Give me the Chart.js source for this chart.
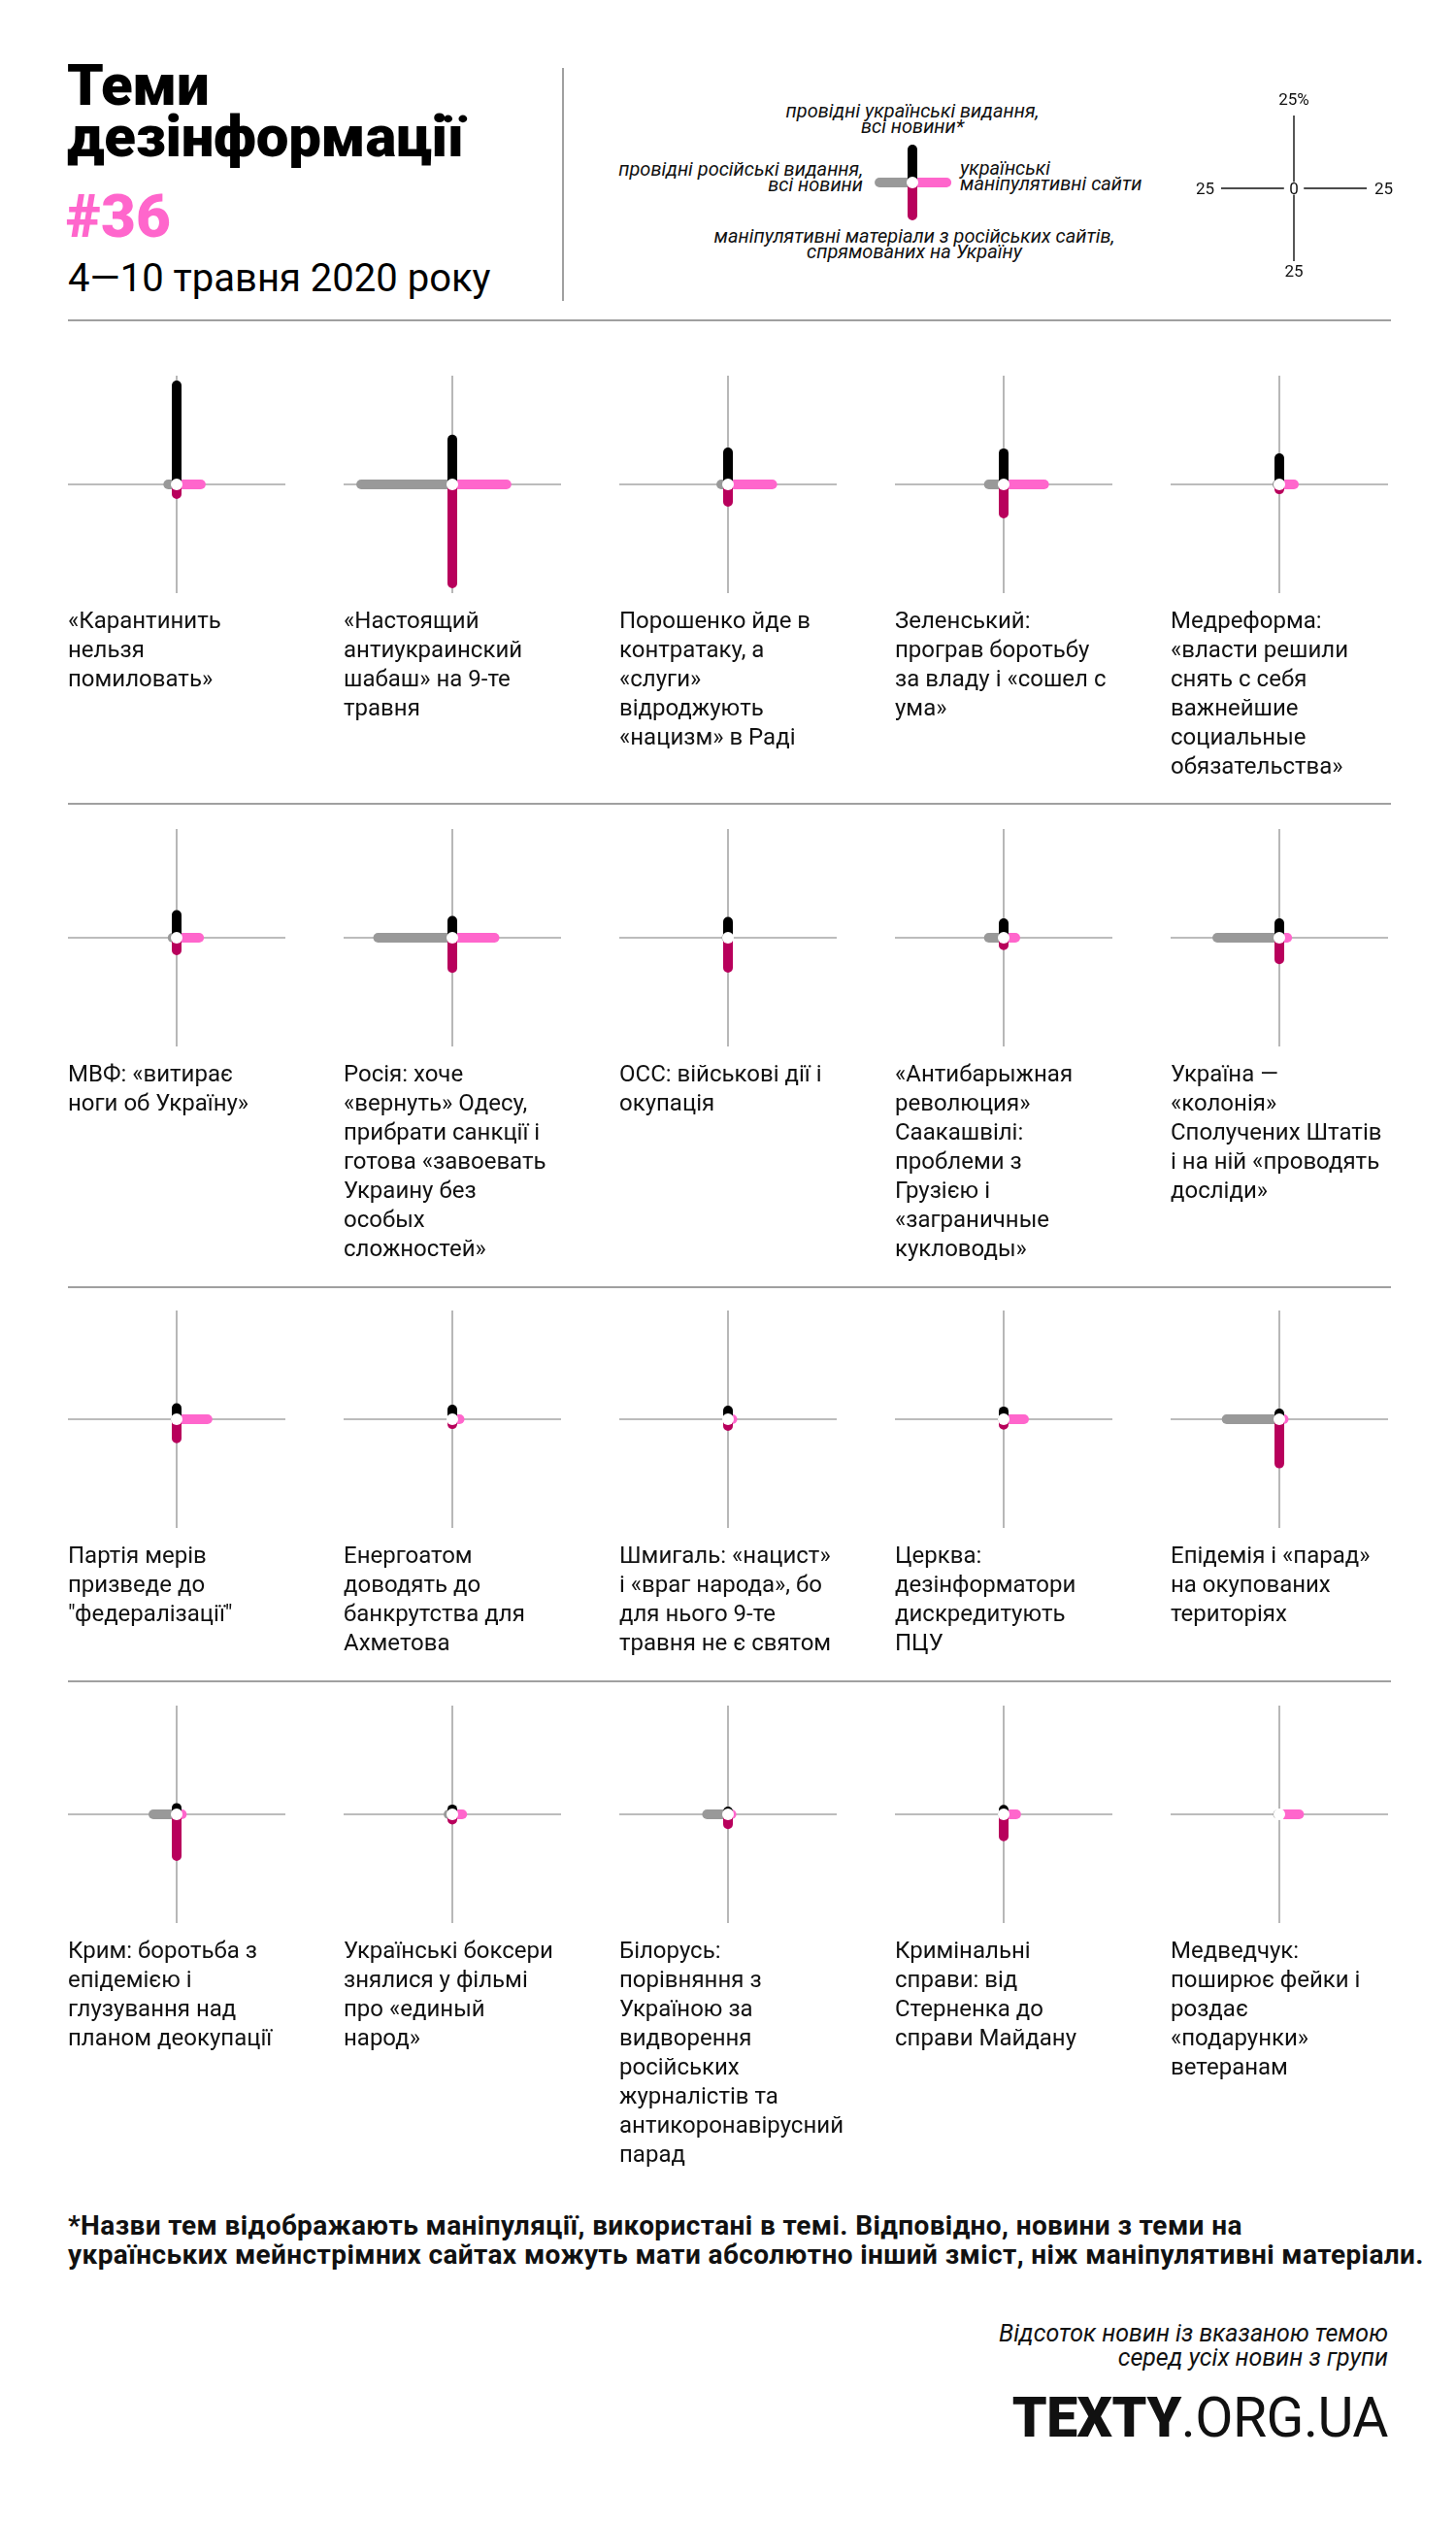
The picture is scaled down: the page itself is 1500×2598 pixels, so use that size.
<!DOCTYPE html>
<html lang="uk">
<head>
<meta charset="utf-8">
<script src="https://cdn.jsdelivr.net/npm/chart.js@4"></script>
<style>
  html, body { margin: 0; padding: 0; background: #fff; }
  body { width: 1500px; height: 2598px; position: relative; overflow: hidden; font-family: Roboto, "Noto Sans", sans-serif; color: #111; }
  .abs { position: absolute; white-space: nowrap; }
  .title { left: 69px; top: 61px; font-size: 60px; line-height: 53px; font-weight: 900; color: #000; letter-spacing: -0.3px; }
  .num { left: 68px; top: 195px; font-size: 62px; line-height: 56px; font-weight: 900; color: #ff66cc; }
  .sub { left: 70px; top: 267px; font-size: 40px; line-height: 40px; font-weight: 400; color: #000; }
  .leg { font-size: 20px; line-height: 16px; font-style: italic; color: #111; }
  .sc { font-size: 17px; line-height: 16px; color: #111; }
  .hr { position: absolute; height: 2px; background: #a0a0a0; }
  .vr { position: absolute; width: 2px; background: #a0a0a0; }
  .lab { position: absolute; font-size: 24px; line-height: 30px; color: #111; white-space: nowrap; }
  .foot { left: 70px; top: 2278px; font-size: 28px; line-height: 30px; font-weight: 700; color: #111; letter-spacing: 0.4px; }
  .note { right: 70px; top: 2391px; font-size: 25px; line-height: 25px; font-style: italic; text-align: right; color: #111; }
  .logo { right: 70px; top: 2461px; font-size: 57px; line-height: 60px; color: #111; letter-spacing: -0.5px; }
  canvas { position: absolute; }
</style>
</head>
<body>
<script>
// ---------------- DATA ----------------
const topics = [
  ["«Карантинить", "нельзя", "помиловать»"],
  ["«Настоящий", "антиукраинский", "шабаш» на 9-те", "травня"],
  ["Порошенко йде в", "контратаку, а", "«слуги»", "відроджують", "«нацизм» в Раді"],
  ["Зеленський:", "програв боротьбу", "за владу і «сошел с", "ума»"],
  ["Медреформа:", "«власти решили", "снять с себя", "важнейшие", "социальные", "обязательства»"],
  ["МВФ: «витирає", "ноги об Україну»"],
  ["Росія: хоче", "«вернуть» Одесу,", "прибрати санкції і", "готова «завоевать", "Украину без", "особых", "сложностей»"],
  ["ОСС: військові дії і", "окупація"],
  ["«Антибарыжная", "революция»", "Саакашвілі:", "проблеми з", "Грузією і", "«заграничные", "кукловоды»"],
  ["Україна —", "«колонія»", "Сполучених Штатів", "і на ній «проводять", "досліди»"],
  ["Партія мерів", "призведе до", "\"федералізації\""],
  ["Енергоатом", "доводять до", "банкрутства для", "Ахметова"],
  ["Шмигаль: «нацист»", "і «враг народа», бо", "для нього 9-те", "травня не є святом"],
  ["Церква:", "дезінформатори", "дискредитують", "ПЦУ"],
  ["Епідемія і «парад»", "на окупованих", "територіях"],
  ["Крим: боротьба з", "епідемією і", "глузування над", "планом деокупації"],
  ["Українські боксери", "знялися у фільмі", "про «единый", "народ»"],
  ["Білорусь:", "порівняння з", "Україною за", "видворення", "російських", "журналістів та", "антикоронавірусний", "парад"],
  ["Кримінальні", "справи: від", "Стерненка до", "справи Майдану"],
  ["Медведчук:", "поширює фейки і", "роздає", "«подарунки»", "ветеранам"]
];
// % of news on the topic within each group
// up (black): leading Ukrainian outlets, all news
const ukrMainstream = [34, 15.4, 11, 10.7, 9, 7.8, 5.8, 5.5, 5, 5, 3.8, 3.3, 3, 2.7, 2, 2.2, 1.7, 1, 1.6, 0];
// right (pink): Ukrainian manipulative sites
const ukrManipulative = [8.3, 18.6, 15.2, 13.9, 5, 7.7, 14.5, 0, 4, 2.7, 10.6, 2.5, 1.5, 7, 1.5, 1.8, 3.4, 1.2, 4.3, 6.8];
// left (grey): leading Russian outlets, all news
const rusMainstream = [2.9, 31.3, 2.3, 5.1, 0.7, 1.4, 25.5, 0.5, 5.1, 21.3, 0.3, 0, 0, 0.3, 18.1, 8, 1.3, 7.2, 0.3, 0.5];
// down (crimson): manipulative materials from Russian sites aimed at Ukraine
const rusManipulative = [3.3, 34, 6, 10, 1.7, 4.3, 10.4, 10.3, 2.6, 7.4, 6.6, 1.7, 2.3, 1.9, 15.2, 14.3, 1.8, 3.4, 7.6, 0];
// legend sample cross and scale
const legendSample = [11.3, 11.7, 11.3, 11.3]; // up, right, left, down
const scaleTick = 25;
const scaleTickLabels = ["25%", "25", "25", "25", "0"];

// ---------------- STYLE / LAYOUT ----------------
const COLORS = { up: "#000000", right: "#ff66cc", left: "#999999", down: "#b8005c", axis: "#a6a6a6" };
const AXIS_MAX = 37.33;      // half-length of each panel axis, in %
const colX = [182, 466, 750, 1034, 1318];
const rowY = [499, 966, 1462, 1869];
const HALF = 112;            // px half-length of panel axes
const PAD = 14;

function add(tag, cls, style, html) {
  const el = document.createElement(tag);
  if (cls) el.className = cls;
  Object.assign(el.style, style || {});
  if (html !== undefined) el.innerHTML = html;
  document.body.appendChild(el);
  return el;
}

// lower "order" = drawn on top in Chart.js
function arm(x, y, color, w, order) {
  return { type: "line", order: order, data: [{ x: 0, y: 0 }, { x: x, y: y }], borderColor: color, borderWidth: w,
           borderCapStyle: "round", pointRadius: 0, showLine: true, clip: false };
}

function crossChart(cx, cy, half, max, up, right, left, down, withAxes) {
  const size = half * 2 + PAD * 2;
  const c = add("canvas", null, { left: (cx - size / 2) + "px", top: (cy - size / 2) + "px" });
  c.width = size; c.height = size;
  c.style.width = size + "px"; c.style.height = size + "px";
  const ds = [];
  ds.push({ type: "scatter", order: 0, data: [{ x: 0, y: 0 }], pointRadius: 6, pointBackgroundColor: "#ffffff",
            pointBorderWidth: 0, pointBorderColor: "#ffffff", clip: false });
  ds.push(arm(0, up, COLORS.up, 10, 1));
  ds.push(arm(0, -down, COLORS.down, 10, 2));
  ds.push(arm(right, 0, COLORS.right, 10, 3));
  ds.push(arm(-left, 0, COLORS.left, 10, 4));
  if (withAxes) {
    ds.push({ type: "line", order: 5, data: [{ x: -max, y: 0 }, { x: max, y: 0 }], borderColor: COLORS.axis, borderWidth: 1.6, pointRadius: 0, clip: false });
    ds.push({ type: "line", order: 6, data: [{ x: 0, y: -max }, { x: 0, y: max }], borderColor: COLORS.axis, borderWidth: 1.6, pointRadius: 0, clip: false });
  }
  new Chart(c, {
    type: "scatter",
    data: { datasets: ds },
    options: {
      responsive: false, animation: false, devicePixelRatio: 1,
      layout: { padding: PAD },
      plugins: { legend: { display: false }, tooltip: { enabled: false } },
      scales: {
        x: { type: "linear", min: -max, max: max, display: false },
        y: { type: "linear", min: -max, max: max, display: false }
      }
    }
  });
}

function scaleChart(cx, cy, tick) {
  const half = tick * 3;
  const size = half * 2 + PAD * 2;
  const c = add("canvas", null, { left: (cx - size / 2) + "px", top: (cy - size / 2) + "px" });
  c.width = size; c.height = size;
  c.style.width = size + "px"; c.style.height = size + "px";
  const seg = (a, b) => ({ type: "line", data: [a, b], borderColor: "#111", borderWidth: 1.4, pointRadius: 0, clip: false });
  new Chart(c, {
    type: "scatter",
    data: { datasets: [
      seg({ x: -tick, y: 0 }, { x: -3.4, y: 0 }),
      seg({ x: 3.4, y: 0 }, { x: tick, y: 0 }),
      seg({ x: 0, y: tick }, { x: 0, y: 2.2 }),
      seg({ x: 0, y: -2.2 }, { x: 0, y: -tick })
    ] },
    options: {
      responsive: false, animation: false, devicePixelRatio: 1,
      layout: { padding: PAD },
      plugins: { legend: { display: false }, tooltip: { enabled: false } },
      scales: {
        x: { type: "linear", min: -tick, max: tick, display: false },
        y: { type: "linear", min: -tick, max: tick, display: false }
      }
    }
  });
}

// ---------------- HEADER ----------------
add("div", "abs title", {}, "Теми<br>дезінформації");
add("div", "abs num", {}, "#36");
add("div", "abs sub", {}, "4—10 травня 2020 року");
add("div", "vr", { left: "579px", top: "70px", height: "240px" });
add("div", "hr", { left: "70px", top: "329px", width: "1363px" });

// legend
add("div", "abs leg", { left: "940px", top: "106px", transform: "translateX(-50%)", textAlign: "center" }, "провідні українські видання,<br>всі новини*");
add("div", "abs leg", { right: (1500 - 889) + "px", top: "166px", textAlign: "right" }, "провідні російські видання,<br>всі новини");
add("div", "abs leg", { left: "989px", top: "165px", textAlign: "left" }, "українські<br>маніпулятивні сайти");
add("div", "abs leg", { left: "942px", top: "235px", transform: "translateX(-50%)", textAlign: "center" }, "маніпулятивні матеріали з російських сайтів,<br>спрямованих на Україну");
crossChart(940, 188, 40, 13.33, legendSample[0], legendSample[1], legendSample[2], legendSample[3], false);

// scale
scaleChart(1333, 194, scaleTick);
add("div", "abs sc", { left: "1333px", top: "94px", transform: "translateX(-50%)" }, scaleTickLabels[0]);
add("div", "abs sc", { right: (1500 - 1251) + "px", top: "186px" }, scaleTickLabels[1]);
add("div", "abs sc", { left: "1416px", top: "186px" }, scaleTickLabels[2]);
add("div", "abs sc", { left: "1333px", top: "271px", transform: "translateX(-50%)" }, scaleTickLabels[3]);
add("div", "abs sc", { left: "1333px", top: "186px", transform: "translateX(-50%)" }, scaleTickLabels[4]);

// ---------------- PANELS ----------------
[827, 1325, 1731].forEach(y => add("div", "hr", { left: "70px", top: y + "px", width: "1363px" }));
topics.forEach((lines, i) => {
  const cx = colX[i % 5], cy = rowY[Math.floor(i / 5)];
  crossChart(cx, cy, HALF, AXIS_MAX, ukrMainstream[i], ukrManipulative[i], rusMainstream[i], rusManipulative[i], true);
  add("div", "lab", { left: (cx - HALF) + "px", top: (cy + 125) + "px" }, lines.join("<br>"));
});

// ---------------- FOOTER ----------------
add("div", "abs foot", {}, "*Назви тем відображають маніпуляції, використані в темі. Відповідно, новини з теми на<br>українських мейнстрімних сайтах можуть мати абсолютно інший зміст, ніж маніпулятивні матеріали.");
add("div", "abs note", {}, "Відсоток новин із вказаною темою<br>серед усіх новин з групи");
add("div", "abs logo", {}, "<span style=\"font-weight:900\">TEXTY</span><span style=\"font-weight:400\">.ORG.UA</span>");
</script>
</body>
</html>
